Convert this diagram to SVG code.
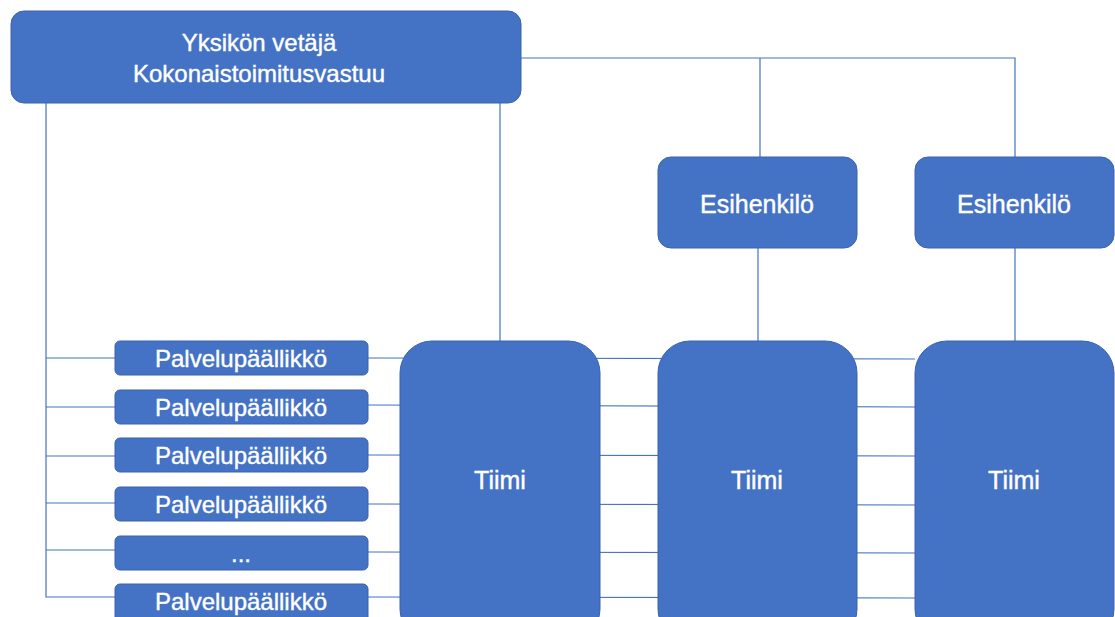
<svg xmlns="http://www.w3.org/2000/svg" width="1115" height="617" viewBox="0 0 1115 617">
<style>
.box{fill:#4472C4;stroke:#3A63AD;stroke-width:1}
.ln{stroke:#4472C4;stroke-width:1.2;fill:none}
.t{font-family:"Liberation Sans",Arial,sans-serif;fill:#fff;stroke:#fff;stroke-width:0.4;text-anchor:middle;font-size:24px}
.tb{font-size:25px}
.tp{font-family:"Liberation Sans",Arial,sans-serif;fill:#fff;stroke:#fff;stroke-width:0.4;text-anchor:middle;font-size:24px}
</style>
<rect width="1115" height="617" fill="#fff"/>
<g id="connectors">
<polyline class="ln" points="521,58 1015,58 1015,157"/>
<line class="ln" x1="760" y1="58" x2="760" y2="157"/>
<line class="ln" x1="758" y1="248" x2="758" y2="341"/>
<line class="ln" x1="1015" y1="248" x2="1015" y2="341"/>
<line class="ln" x1="500" y1="103" x2="500" y2="341"/>
<polyline class="ln" points="46,103 46,597 115,597"/>
<line class="ln" x1="46" y1="358" x2="115" y2="358"/>
<line class="ln" x1="46" y1="407" x2="115" y2="407"/>
<line class="ln" x1="46" y1="456" x2="115" y2="456"/>
<line class="ln" x1="46" y1="503" x2="115" y2="503"/>
<line class="ln" x1="46" y1="550" x2="115" y2="550"/>
<line class="ln" x1="368" y1="358" x2="915" y2="359"/>
<line class="ln" x1="368" y1="405" x2="915" y2="407"/>
<line class="ln" x1="368" y1="455" x2="915" y2="456"/>
<line class="ln" x1="368" y1="504" x2="915" y2="505"/>
<line class="ln" x1="368" y1="552" x2="915" y2="553"/>
<line class="ln" x1="368" y1="597" x2="915" y2="598"/>
</g>
<g id="top">
<rect class="box" x="11" y="11" width="510" height="92" rx="13"/>
<text class="t" x="259" y="51">Yksikön vetäjä</text>
<text class="t" x="259" y="82">Kokonaistoimitusvastuu</text>
</g>
<g id="esi1">
<rect class="box" x="658" y="157" width="199" height="91" rx="13"/>
<text class="t tb" x="757" y="213">Esihenkilö</text>
</g>
<g id="esi2">
<rect class="box" x="915" y="157" width="199" height="91" rx="13"/>
<text class="t tb" x="1014" y="213">Esihenkilö</text>
</g>
<g id="pp1"><rect class="box" x="115" y="341" width="253" height="34" rx="5"/><text class="tp" x="241" y="367">Palvelupäällikkö</text></g>
<g id="pp2"><rect class="box" x="115" y="390" width="253" height="34" rx="5"/><text class="tp" x="241" y="416">Palvelupäällikkö</text></g>
<g id="pp3"><rect class="box" x="115" y="438" width="253" height="34" rx="5"/><text class="tp" x="241" y="464">Palvelupäällikkö</text></g>
<g id="pp4"><rect class="box" x="115" y="487" width="253" height="34" rx="5"/><text class="tp" x="241" y="513">Palvelupäällikkö</text></g>
<g id="pp5"><rect class="box" x="115" y="536" width="253" height="34" rx="5"/><text class="tp" x="241" y="562">...</text></g>
<g id="pp6"><rect class="box" x="115" y="584" width="253" height="40" rx="5"/><text class="tp" x="241" y="610">Palvelupäällikkö</text></g>
<g id="tiimi1"><rect class="box" x="400" y="341" width="200" height="300" rx="32"/><text class="t tb" x="500" y="489">Tiimi</text></g>
<g id="tiimi2"><rect class="box" x="658" y="341" width="199" height="300" rx="32"/><text class="t tb" x="757" y="489">Tiimi</text></g>
<g id="tiimi3"><rect class="box" x="915" y="341" width="199" height="300" rx="32"/><text class="t tb" x="1014" y="489">Tiimi</text></g>
</svg>
